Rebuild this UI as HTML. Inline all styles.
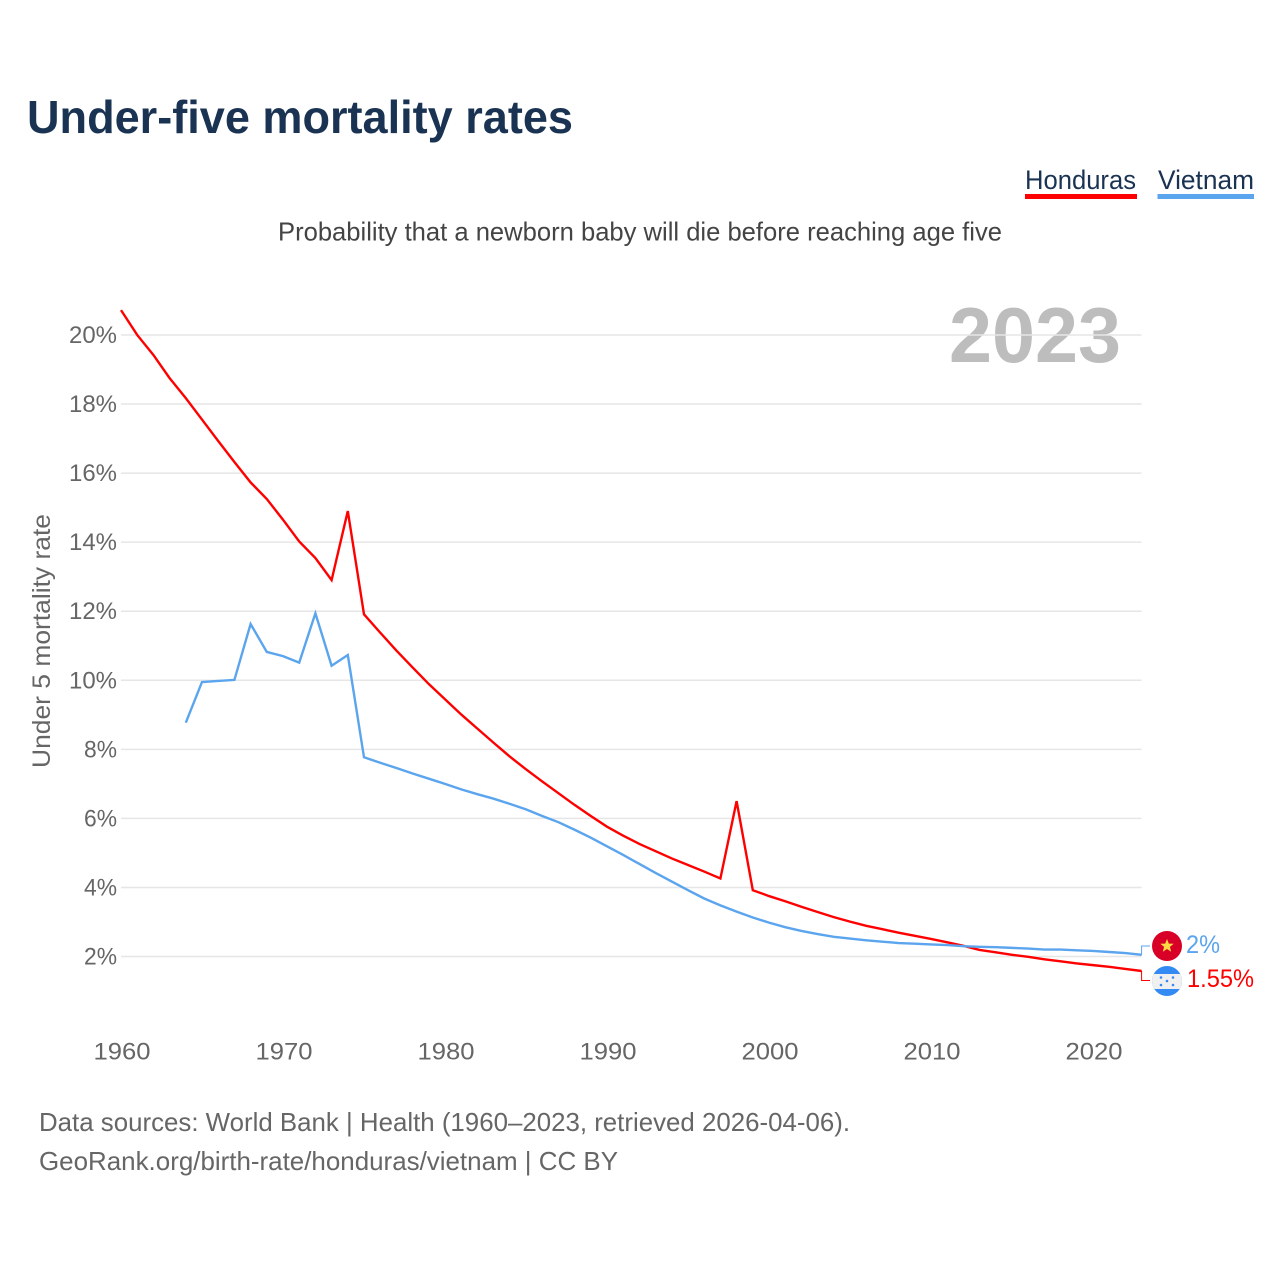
<!DOCTYPE html>
<html lang="en">
<head>
<meta charset="utf-8">
<title>Under-five mortality rates</title>
<style>
html,body{margin:0;padding:0;background:#fff;}
svg{display:block;font-family:"Liberation Sans",sans-serif;}
</style>
</head>
<body>
<svg id="chart" width="1280" height="1280" viewBox="0 0 1280 1280" xmlns="http://www.w3.org/2000/svg">
  <rect x="0" y="0" width="1280" height="1280" fill="#fff"/>
  <text x="27" y="133" font-size="46" font-weight="700" fill="#1a3353" textLength="546" lengthAdjust="spacingAndGlyphs">Under-five mortality rates</text>
  <g>
    <text x="1025" y="189" font-size="27" fill="#1a3353" textLength="111" lengthAdjust="spacingAndGlyphs">Honduras</text>
    <rect x="1025" y="194" width="112" height="5" fill="#ff0000"/>
  </g>
  <g>
    <text x="1158" y="189" font-size="27" fill="#1a3353" textLength="96" lengthAdjust="spacingAndGlyphs">Vietnam</text>
    <rect x="1157.5" y="194" width="96.5" height="5" fill="#5ba4ee"/>
  </g>
  <text x="278" y="240.5" font-size="26" fill="#444" textLength="724" lengthAdjust="spacingAndGlyphs">Probability that a newborn baby will die before reaching age five</text>
  <text x="949" y="362" font-size="78" font-weight="700" fill="#bdbdbd" textLength="172" lengthAdjust="spacingAndGlyphs">2023</text>
  <g id="grid"></g>
  <g id="y-ticks"></g>
  <g id="x-ticks"></g>
  <text transform="translate(50 641) rotate(-90)" x="-127" y="0" font-size="25" fill="#666" textLength="254" lengthAdjust="spacingAndGlyphs">Under 5 mortality rate</text>
  <g id="series"></g>
  <g>
    <circle cx="1167" cy="946" r="15" fill="#d80027"/>
    <polygon points="1167,939 1168.8,943.6 1173.7,943.8 1169.9,946.9 1171.2,951.7 1167,949 1162.8,951.7 1164.1,946.9 1160.3,943.8 1165.2,943.6" fill="#ffda44"/>
  </g>
  <g>
    <clipPath id="hn-clip"><circle cx="1167" cy="981" r="15"/></clipPath>
    <g clip-path="url(#hn-clip)">
      <rect x="1152" y="966" width="30" height="30" fill="#338af3"/>
      <rect x="1152" y="974" width="30" height="15" fill="#f0f0f0"/>
      <circle cx="1161" cy="977.5" r="1.3" fill="#338af3"/>
      <circle cx="1173" cy="977.5" r="1.3" fill="#338af3"/>
      <circle cx="1167" cy="981" r="1.3" fill="#338af3"/>
      <circle cx="1161" cy="985" r="1.3" fill="#338af3"/>
      <circle cx="1173" cy="985" r="1.3" fill="#338af3"/>
    </g>
  </g>
  <text x="1186" y="953" font-size="25" fill="#5ba4ee" textLength="34" lengthAdjust="spacingAndGlyphs">2%</text>
  <text x="1187" y="987" font-size="25" fill="#ff0000" textLength="67" lengthAdjust="spacingAndGlyphs">1.55%</text>
  <text x="39" y="1131" font-size="26" fill="#666" textLength="811" lengthAdjust="spacingAndGlyphs">Data sources: World Bank | Health (1960–2023, retrieved 2026-04-06).</text>
  <text x="39" y="1170" font-size="26" fill="#666" textLength="579" lengthAdjust="spacingAndGlyphs">GeoRank.org/birth-rate/honduras/vietnam | CC BY</text>
</svg>
<script>
const yTickValues = [2, 4, 6, 8, 10, 12, 14, 16, 18, 20];
const xTickYears = [1960, 1970, 1980, 1990, 2000, 2010, 2020];
const hondurasStartYear = 1960;
const hondurasValues = [20.72, 20.0, 19.42, 18.75, 18.17, 17.55, 16.93, 16.32, 15.73, 15.25,
  14.65, 14.02, 13.54, 12.9, 14.9, 11.91, 11.38, 10.86, 10.37, 9.89,
  9.45, 9.01, 8.6, 8.19, 7.79, 7.42, 7.07, 6.73, 6.39, 6.07,
  5.76, 5.5, 5.26, 5.05, 4.84, 4.65, 4.46, 4.26, 6.5, 3.92,
  3.75, 3.6, 3.44, 3.29, 3.14, 3.01, 2.89, 2.79, 2.69, 2.6,
  2.51, 2.41, 2.31, 2.19, 2.12, 2.05, 1.99, 1.92, 1.86, 1.8,
  1.75, 1.7, 1.64, 1.58];
const vietnamStartYear = 1964;
const vietnamValues = [8.77, 9.95, 9.98, 10.01, 11.63, 10.82,
  10.7, 10.51, 11.94, 10.42, 10.73, 7.77, 7.61, 7.46, 7.3, 7.15,
  7.0, 6.84, 6.7, 6.57, 6.42, 6.26, 6.07, 5.89, 5.67, 5.44,
  5.19, 4.94, 4.68, 4.42, 4.17, 3.92, 3.68, 3.48, 3.3, 3.13,
  2.98, 2.85, 2.74, 2.65, 2.57, 2.52, 2.47, 2.43, 2.39, 2.37,
  2.35, 2.33, 2.3, 2.28, 2.27, 2.25, 2.23, 2.2, 2.2, 2.18,
  2.16, 2.13, 2.1, 2.05];

const NS = 'http://www.w3.org/2000/svg';
const xScale = year => 121 + (year - 1960) * 16.2;
const yScale = value => 956.5 - (value - 2) * 34.53;

const gridGroup = document.getElementById('grid');
const yTickGroup = document.getElementById('y-ticks');
const xTickGroup = document.getElementById('x-ticks');
const seriesGroup = document.getElementById('series');

yTickValues.forEach(value => {
  const line = document.createElementNS(NS, 'line');
  
  
  line.setAttribute('x1', xScale(1960));
  line.setAttribute('x2', xScale(2023));
  line.setAttribute('y1', yScale(value));
  line.setAttribute('y2', yScale(value));
  line.setAttribute('stroke', '#e6e6e6');
  line.setAttribute('stroke-width', '1.5');
  gridGroup.appendChild(line);

  const label = document.createElementNS(NS, 'text');
  
  
  label.setAttribute('x', 117);
  label.setAttribute('y', yScale(value) + 8);
  label.setAttribute('text-anchor', 'end');
  label.setAttribute('font-size', '24');
  label.setAttribute('fill', '#666');
  label.setAttribute('textLength', value >= 10 ? 48 : 33);
  label.setAttribute('lengthAdjust', 'spacingAndGlyphs');
  label.textContent = value + '%';
  yTickGroup.appendChild(label);
});

xTickYears.forEach(year => {
  const label = document.createElementNS(NS, 'text');
  
  
  label.setAttribute('x', xScale(year) + 1);
  label.setAttribute('y', 1059.5);
  label.setAttribute('text-anchor', 'middle');
  label.setAttribute('font-size', '24');
  label.setAttribute('fill', '#666');
  label.setAttribute('textLength', 57);
  label.setAttribute('lengthAdjust', 'spacingAndGlyphs');
  label.textContent = year;
  xTickGroup.appendChild(label);
});

function seriesPoints(values, startYear) {
  return values.map((v, i) => xScale(startYear + i).toFixed(2) + ',' + yScale(v).toFixed(2));
}

const hondurasLine = document.createElementNS(NS, 'polyline');


hondurasLine.setAttribute('points', seriesPoints(hondurasValues, hondurasStartYear).join(' '));
hondurasLine.setAttribute('fill', 'none');
hondurasLine.setAttribute('stroke', '#ff0000');
hondurasLine.setAttribute('stroke-width', '2.4');
seriesGroup.appendChild(hondurasLine);

const vietnamLine = document.createElementNS(NS, 'polyline');


vietnamLine.setAttribute('points', seriesPoints(vietnamValues, vietnamStartYear).join(' '));
vietnamLine.setAttribute('fill', 'none');
vietnamLine.setAttribute('stroke', '#5ba4ee');
vietnamLine.setAttribute('stroke-width', '2.4');
seriesGroup.appendChild(vietnamLine);

const endX = xScale(2023);
const hondurasLeader = document.createElementNS(NS, 'polyline');


hondurasLeader.setAttribute('points', endX + ',' + yScale(hondurasValues[hondurasValues.length - 1]) + ' ' + endX + ',980.5 1150,980.5');
hondurasLeader.setAttribute('fill', 'none');
hondurasLeader.setAttribute('stroke', '#ff0000');
hondurasLeader.setAttribute('stroke-width', '1');
seriesGroup.appendChild(hondurasLeader);

const vietnamLeader = document.createElementNS(NS, 'polyline');


vietnamLeader.setAttribute('points', endX + ',' + yScale(vietnamValues[vietnamValues.length - 1]) + ' ' + endX + ',946 1150,946');
vietnamLeader.setAttribute('fill', 'none');
vietnamLeader.setAttribute('stroke', '#5ba4ee');
vietnamLeader.setAttribute('stroke-width', '1');
seriesGroup.appendChild(vietnamLeader);
</script>
</body>
</html>
